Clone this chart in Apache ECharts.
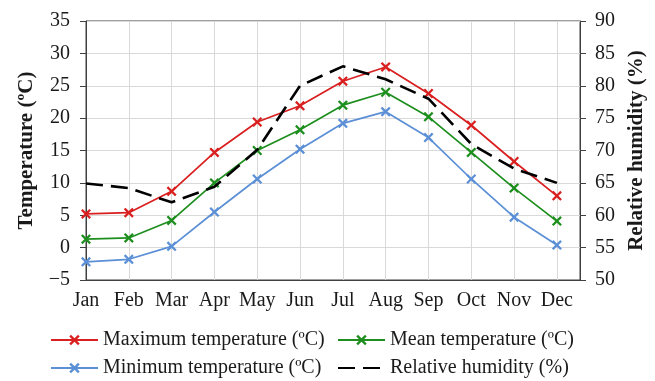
<!DOCTYPE html>
<html>
<head>
<meta charset="utf-8">
<script src="https://cdn.jsdelivr.net/npm/echarts@6/dist/echarts.min.js"></script>
<style>
  html, body { margin: 0; padding: 0; background: #fff; }
  #chart { width: 655px; height: 381px; }
</style>
</head>
<body>
<div id="chart"></div>
<script>
// Monthly climate normals
const months = ['Jan', 'Feb', 'Mar', 'Apr', 'May', 'Jun', 'Jul', 'Aug', 'Sep', 'Oct', 'Nov', 'Dec'];
const maxTemp = [5.2, 5.4, 8.7, 14.7, 19.4, 21.9, 25.7, 27.9, 23.8, 18.9, 13.3, 8.0];
const meanTemp = [1.3, 1.5, 4.2, 10.0, 15.0, 18.2, 22.0, 24.0, 20.2, 14.7, 9.2, 4.1];
const minTemp = [-2.2, -1.8, 0.2, 5.5, 10.6, 15.2, 19.2, 21.0, 17.0, 10.6, 4.7, 0.4];
const humidity = [64.9, 64.2, 62.0, 64.4, 70.1, 80.0, 83.0, 81.0, 78.0, 71.0, 67.2, 65.0];

const tempTicks = { min: -5, max: 35, step: 5 };
const rhTicks = { min: 50, max: 90, step: 5 };

const seriesNames = {
  max: 'Maximum temperature (ºC)',
  mean: 'Mean temperature (ºC)',
  min: 'Minimum temperature (ºC)',
  rh: 'Relative humidity (%)'
};

const FONT = '"Liberation Serif", "Times New Roman", serif';
const FS = 20;
const AXIS = '#404040';
const GRIDC = '#d9d9d9';
const TEXT = '#1a1a1a';

// filled "x" marker
const CROSS = 'path://M0,1.6 L1.6,0 L5,3.4 L8.4,0 L10,1.6 L6.6,5 L10,8.4 L8.4,10 L5,6.6 L1.6,10 L0,8.4 L3.4,5 Z';

const pairs = arr => arr.map((v, i) => [i, v]);

function tempSeries(name, data, color) {
  return {
    name: name,
    type: 'line',
    yAxisIndex: 0,
    data: pairs(data),
    symbol: CROSS,
    symbolSize: 10,
    lineStyle: { color: color, width: 1.7 },
    itemStyle: { color: color },
    z: 3
  };
}

// one legend block per entry so the two columns line up
function legendAt(left, top, entry) {
  return {
    left: left,
    top: top,
    padding: 0,
    itemWidth: 47,
    itemHeight: 13,
    itemGap: 0,
    selectedMode: false,
    textStyle: { fontFamily: FONT, fontSize: FS, color: TEXT },
    data: [entry]
  };
}

const chart = echarts.init(document.getElementById('chart'), null, { renderer: 'canvas' });

chart.setOption({
  animation: false,
  backgroundColor: '#fff',
  textStyle: { fontFamily: FONT },
  grid: {
    left: 86, right: 75, top: 21, bottom: 101,
    show: true, borderColor: AXIS, borderWidth: 1, backgroundColor: 'transparent'
  },
  legend: [
    legendAt(50, 330, seriesNames.max),
    legendAt(337, 330, seriesNames.mean),
    legendAt(50, 358, seriesNames.min),
    legendAt(337, 358, { name: seriesNames.rh, itemStyle: { opacity: 0 } })
  ],
  xAxis: {
    type: 'value',
    min: 0,
    max: 11.54,
    interval: 1,
    axisLine: { show: true, onZero: false, lineStyle: { color: AXIS, width: 1 } },
    axisTick: { show: false },
    splitLine: { show: true, lineStyle: { color: GRIDC, width: 1 } },
    axisLabel: {
      margin: 11,
      fontFamily: FONT, fontSize: FS, color: TEXT,
      formatter: v => (Number.isInteger(v) && months[v]) ? months[v] : ''
    }
  },
  yAxis: [
    {
      type: 'value',
      min: tempTicks.min, max: tempTicks.max, interval: tempTicks.step,
      name: 'Temperature (ºC)',
      nameLocation: 'middle',
      nameGap: 49,
      nameTextStyle: { fontFamily: FONT, fontSize: 21, fontWeight: 'bold', color: TEXT },
      axisLine: { show: true, onZero: false, lineStyle: { color: AXIS, width: 1 } },
      axisTick: { show: true, length: 6, lineStyle: { color: AXIS } },
      splitLine: { show: true, lineStyle: { color: GRIDC, width: 1 } },
      axisLabel: {
        margin: 16,
        fontFamily: FONT, fontSize: FS, color: TEXT,
        formatter: v => String(v).replace('-', '\u2212')
      }
    },
    {
      type: 'value',
      position: 'right',
      min: rhTicks.min, max: rhTicks.max, interval: rhTicks.step,
      name: 'Relative humidity (%)',
      nameLocation: 'middle',
      nameGap: 42,
      nameRotate: 90,
      nameTextStyle: { fontFamily: FONT, fontSize: 21, fontWeight: 'bold', color: TEXT },
      axisLine: { show: true, onZero: false, lineStyle: { color: AXIS, width: 1 } },
      axisTick: { show: true, length: 6, lineStyle: { color: AXIS } },
      splitLine: { show: false },
      axisLabel: { margin: 15, fontFamily: FONT, fontSize: FS, color: TEXT }
    }
  ],
  series: [
    tempSeries(seriesNames.max, maxTemp, '#d91f1f'),
    tempSeries(seriesNames.mean, meanTemp, '#1e8f1e'),
    tempSeries(seriesNames.min, minTemp, '#5b8fd6'),
    {
      name: seriesNames.rh,
      type: 'line',
      yAxisIndex: 1,
      data: pairs(humidity),
      symbol: 'none',
      lineStyle: { color: '#000', width: 2.6, type: [17, 8] },
      itemStyle: { color: '#000' },
      z: 4
    }
  ]
});
</script>
</body>
</html>
